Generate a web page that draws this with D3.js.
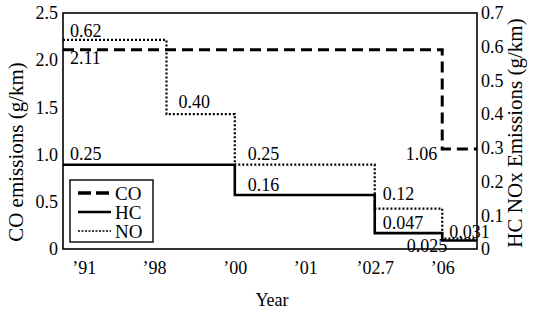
<!DOCTYPE html>
<html><head><meta charset="utf-8">
<script src="https://cdn.jsdelivr.net/npm/d3@7"></script>
<style>body{margin:0;background:#fff}svg{display:block}text{font-family:"Liberation Serif","Times New Roman",serif;fill:#000}</style>
</head><body>
<svg id="c" width="535" height="316"></svg>
<script>
// ---- data ----
const xTickPos = [5, 22, 41.5, 58.5, 75.3, 91.6];
const xTickLabels = ["\u201991", "\u201998", "\u201900", "\u201901", "\u201902.7", "\u201906"];
const leftTicks = [0, 0.5, 1.0, 1.5, 2.0, 2.5];
const leftTickLabels = ["0", "0.5", "1.0", "1.5", "2.0", "2.5"];
const rightTicks = [0, 0.1, 0.2, 0.3, 0.4, 0.5, 0.6, 0.7];
const rightTickLabels = ["0", "0.1", "0.2", "0.3", "0.4", "0.5", "0.6", "0.7"];
// step series: breakpoints (x) and level in each interval
const coX = [0, 91.6, 100];
const coY = [2.11, 1.06];
const hcX = [0, 41.5, 75.3, 91.6, 100];
const hcY = [0.25, 0.16, 0.047, 0.025];
const noX = [0, 25, 41.5, 75.3, 91.6, 100];
const noY = [0.62, 0.40, 0.25, 0.12, 0.031];
const legendNames = ["CO", "HC", "NO"];

// ---- layout ----
const svg = d3.select("#c");
const L = 63, R = 477, T = 13, B = 249;
const x = d3.scaleLinear().domain([0, 100]).range([L, R]);
const yL = d3.scaleLinear().domain([0, 2.5]).range([B, T]);
const yR = d3.scaleLinear().domain([0, 0.7]).range([B, T]);

function pts(xs, ys) {
  const p = ys.map((v, i) => [xs[i], v]);
  p.push([xs[xs.length - 1], ys[ys.length - 1]]);
  return p;
}
const lineL = d3.line().x(d => x(d[0])).y(d => yL(d[1])).curve(d3.curveStepAfter);
const lineR = d3.line().x(d => x(d[0])).y(d => yR(d[1])).curve(d3.curveStepAfter);

// axes
const fs = 18;
const axL = svg.append("g").attr("transform", `translate(${L},0)`)
  .call(d3.axisLeft(yL).tickValues(leftTicks).tickFormat((d, i) => leftTickLabels[i]).tickSize(0).tickPadding(5));
const axR = svg.append("g").attr("transform", `translate(${R},0)`)
  .call(d3.axisRight(yR).tickValues(rightTicks).tickFormat((d, i) => rightTickLabels[i]).tickSize(0).tickPadding(4));
const axB = svg.append("g").attr("transform", `translate(0,${B})`)
  .call(d3.axisBottom(x).tickValues(xTickPos).tickFormat((d, i) => xTickLabels[i]).tickSize(0).tickPadding(12));
[axL, axR, axB].forEach(a => {
  a.select(".domain").remove();
  a.selectAll("text").attr("font-size", fs).attr("font-family", "Liberation Serif");
});
// frame
svg.append("rect").attr("x", L).attr("y", T).attr("width", R - L).attr("height", B - T)
  .attr("fill", "none").attr("stroke", "#000").attr("stroke-width", 1.6);

// series
svg.append("path").attr("d", lineL(pts(coX, coY))).attr("fill", "none").attr("stroke", "#000")
  .attr("stroke-width", 3).attr("stroke-dasharray", "11,6");
svg.append("path").attr("d", lineR(pts(hcX, hcY))).attr("fill", "none").attr("stroke", "#000")
  .attr("stroke-width", 2.6);
svg.append("path").attr("d", lineR(pts(noX, noY))).attr("fill", "none").attr("stroke", "#000")
  .attr("stroke-width", 2.2).attr("stroke-dasharray", "2,2");

// value labels
function lab(t, px, py, anchor) {
  svg.append("text").attr("x", px).attr("y", py).attr("font-size", fs)
    .attr("text-anchor", anchor || "start").text(t);
}
lab(noY[0].toFixed(2), x(noX[0]) + 7, yR(noY[0]) - 3);
lab(coY[0].toFixed(2), x(coX[0]) + 7, yL(coY[0]) + 14);
lab(noY[1].toFixed(2), x(noX[1]) + 12, yR(noY[1]) - 6);
lab(hcY[0].toFixed(2), x(hcX[0]) + 7, yR(hcY[0]) - 5);
lab(noY[2].toFixed(2), x(noX[2]) + 13, yR(noY[2]) - 5);
lab(hcY[1].toFixed(2), x(hcX[1]) + 13, yR(hcY[1]) - 4);
lab(noY[3].toFixed(2), x(noX[3]) + 8, yR(noY[3]) - 9);
lab(hcY[2].toFixed(3), x(hcX[2]) + 8, yR(hcY[2]) - 4);
lab(coY[1].toFixed(2), x(coX[1]) - 5, yL(coY[1]) + 11, "end");
lab(noY[4].toFixed(3), x(noX[4]) + 7, yR(noY[4]) - 1);
lab(hcY[3].toFixed(3), x(hcX[3]) + 5, yR(hcY[3]) + 11, "end");

// axis titles
svg.append("text").attr("transform", `translate(23,${(T + B) / 2 + 21}) rotate(-90)`)
  .attr("text-anchor", "middle").attr("font-size", 21).text("CO emissions (g/km)");
svg.append("text").attr("transform", `translate(522,${(T + B) / 2 + 2}) rotate(-90)`)
  .attr("text-anchor", "middle").attr("font-size", 21).text("HC NOx Emissions (g/km)");
svg.append("text").attr("x", (L + R) / 2 + 2).attr("y", 306).attr("text-anchor", "middle")
  .attr("font-size", 18).text("Year");

// legend
const lg = svg.append("g").attr("transform", "translate(70,180)");
lg.append("rect").attr("width", 83).attr("height", 62).attr("fill", "#fff")
  .attr("stroke", "#000").attr("stroke-width", 1.4);
const styles = [
  {w: 3.4, dash: "13,5"},
  {w: 2.6, dash: null},
  {w: 1.6, dash: "2,1.5"}
];
legendNames.forEach((n, i) => {
  const yy = 13 + i * 19;
  lg.append("line").attr("x1", 8).attr("x2", 41).attr("y1", yy).attr("y2", yy)
    .attr("stroke", "#000").attr("stroke-width", styles[i].w)
    .attr("stroke-dasharray", styles[i].dash);
  lg.append("text").attr("x", 45).attr("y", yy).attr("dy", "0.35em")
    .attr("font-size", 19).text(n);
});
</script>
</body></html>
